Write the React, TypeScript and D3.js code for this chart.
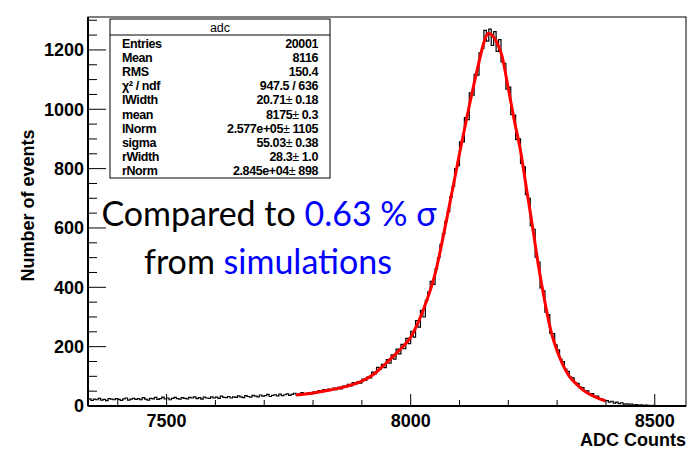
import React, { useEffect, useRef } from "react";
import * as d3 from "d3";

// histogram: 5-count bins starting at 7340
const binStart = 7340;
const binWidth = 5;
const counts = [
  24, 19, 23, 21, 26, 20, 22, 18, 25, 23,
  21, 25, 22, 19, 24, 27, 20, 23, 26, 22,
  25, 21, 28, 23, 20, 26, 24, 29, 22, 25,
  30, 24, 27, 21, 26, 29, 25, 23, 28, 26,
  24, 29, 27, 31, 25, 28, 23, 30, 27, 26,
  31, 27, 30, 26, 33, 29, 28, 32, 27, 31,
  29, 34, 31, 28, 35, 32, 30, 36, 33, 31,
  37, 33, 35, 39, 32, 36, 38, 34, 40, 35,
  38, 41, 36, 39, 43, 37, 41, 45, 40, 43,
  45, 41, 48, 44, 52, 47, 55, 50, 57, 53,
  60, 55, 63, 58, 67, 64, 73, 68, 79, 74,
  82, 77, 91, 86, 97, 95, 114, 108, 130, 124,
  140, 129, 156, 144, 172, 158, 192, 176, 208, 193,
  228, 210, 252, 232, 288, 266, 322, 300, 356, 385,
  420, 410, 462, 500, 545, 580, 622, 655, 705, 740,
  800, 810, 890, 890, 972, 965, 1055, 1048, 1118, 1115,
  1190, 1205, 1266, 1230, 1270, 1215, 1262, 1195, 1235, 1160,
  1155, 1068, 1075, 982, 980, 898, 900, 818, 806, 712,
  700, 608, 595, 502, 485, 398, 388, 316, 308, 245,
  244, 206, 189, 158, 150, 124, 117, 97, 95, 79,
  76, 64, 62, 50, 51, 39, 42, 30, 33, 24,
  23, 18, 18, 13, 16, 10, 13, 8, 11, 6,
  7, 6, 6, 3, 5, 3, 4, 2, 3, 2,
  1, 2, 1, 1, 0, 1, 0, 0, 1, 0, 0, 0, 0, 0,
];

// fitted curve
const fitX = [7765, 7800, 7835, 7870, 7900, 7925, 7950, 7975, 8000, 8025, 8050, 8075, 8100, 8125, 8140, 8150, 8158, 8165, 8175, 8187, 8200, 8212, 8225, 8237, 8250, 8262, 8275, 8287, 8300, 8312, 8325, 8337, 8350, 8362, 8375, 8387, 8400];
const fitY = [37, 44, 54, 67, 84, 108, 145, 185, 232, 320, 445, 640, 850, 1050, 1160, 1225, 1255, 1252, 1230, 1180, 1070, 965, 860, 735, 600, 470, 350, 255, 185, 138, 100, 78, 58, 44, 33, 24, 17];

const xMajor = [7500, 8000, 8500];
const yMajor = [0, 200, 400, 600, 800, 1000, 1200];

const statNames = ["Entries", "Mean", "RMS", "χ² / ndf", "lWidth", "mean", "lNorm", "sigma", "rWidth", "rNorm"];
const statValues = ["20001", "8116", "150.4", "947.5 / 636", "20.71", "8175", "2.577e+05", "55.03", "28.3", "2.845e+04"];
const statErrors = ["", "", "", "", "0.18", "0.3", "1105", "0.38", "1.0", "898"];

const W = 690;
const H = 449;
const rootFont = "'Liberation Sans', Arial, sans-serif";

const App = () => {
  const ref = useRef<SVGSVGElement>(null);

  useEffect(() => {
    document.body.style.margin = "0";
    const svg = d3.select(ref.current);
    svg.selectAll("*").remove();

    const left = 88, right = 686, top = 17, bottom = 406;
    const x = d3.scaleLinear().domain([7339, 8564]).range([left, right]);
    const y = d3.scaleLinear().domain([0, 1311]).range([bottom, top]);

    svg.append("rect").attr("width", W).attr("height", H).attr("fill", "#fff");

    // histogram
    const pts: [number, number][] = counts.map((c, i) => [binStart + i * binWidth, c]);
    pts.push([binStart + counts.length * binWidth, counts[counts.length - 1]]);
    const step = d3.line<[number, number]>()
      .x(d => x(d[0]))
      .y(d => y(d[1]))
      .curve(d3.curveStepAfter);
    svg.append("path")
      .attr("d", step(pts))
      .attr("fill", "none")
      .attr("stroke", "#000")
      .attr("stroke-width", 1.2);

    // fit
    const fitLine = d3.line<number>()
      .x((d, i) => x(fitX[i]))
      .y(d => y(d))
      .curve(d3.curveMonotoneX);
    svg.append("path")
      .attr("d", fitLine(fitY))
      .attr("fill", "none")
      .attr("stroke", "#ff0000")
      .attr("stroke-width", 3);

    // frame
    svg.append("rect")
      .attr("x", left).attr("y", top)
      .attr("width", right - left).attr("height", bottom - top)
      .attr("fill", "none").attr("stroke", "#000").attr("stroke-width", 1);

    // x ticks
    const xMinor = d3.range(7400, 8564, 100);
    svg.append("g").selectAll("line").data(xMinor).enter().append("line")
      .attr("x1", d => x(d)).attr("x2", d => x(d))
      .attr("y1", bottom).attr("y2", d => bottom - (xMajor.includes(d) ? 12 : 6))
      .attr("stroke", "#000");
    svg.append("g").selectAll("text").data(xMajor).enter().append("text")
      .attr("x", d => x(d)).attr("y", 427)
      .attr("text-anchor", "middle")
      .attr("font-family", rootFont).attr("font-weight", "bold").attr("font-size", 18)
      .text(d => d);

    // y ticks
    const yMinor = d3.range(0, 1311, 50);
    svg.append("g").selectAll("line").data(yMinor).enter().append("line")
      .attr("x1", left).attr("x2", d => left + (d % 200 === 0 ? 18 : 9))
      .attr("y1", d => y(d)).attr("y2", d => y(d))
      .attr("stroke", "#000");
    svg.append("g").selectAll("text").data(yMajor).enter().append("text")
      .attr("x", 84).attr("y", d => y(d))
      .attr("dy", "0.36em")
      .attr("text-anchor", "end")
      .attr("font-family", rootFont).attr("font-weight", "bold").attr("font-size", 18)
      .text(d => d);

    // axes
    svg.append("line").attr("x1", left).attr("x2", right).attr("y1", bottom).attr("y2", bottom)
      .attr("stroke", "#000").attr("stroke-width", 2);
    svg.append("line").attr("x1", left).attr("x2", left).attr("y1", top).attr("y2", bottom)
      .attr("stroke", "#000").attr("stroke-width", 2);

    // axis titles
    svg.append("text")
      .attr("x", right).attr("y", 446)
      .attr("text-anchor", "end")
      .attr("font-family", rootFont).attr("font-weight", "bold").attr("font-size", 18)
      .text("ADC Counts");
    svg.append("text")
      .attr("transform", `translate(34,${(top + bottom) / 2 - 6}) rotate(-90)`)
      .attr("text-anchor", "middle")
      .attr("font-family", rootFont).attr("font-weight", "bold").attr("font-size", 18)
      .text("Number of events");

    // stats box
    const bx = 110, by = 19, bw = 220, bh = 159;
    const stats = svg.append("g");
    stats.append("rect")
      .attr("x", bx).attr("y", by).attr("width", bw).attr("height", bh)
      .attr("fill", "#fff").attr("stroke", "#000");
    stats.append("line")
      .attr("x1", bx).attr("x2", bx + bw).attr("y1", 35).attr("y2", 35)
      .attr("stroke", "#000");
    stats.append("text")
      .attr("x", bx + bw / 2).attr("y", 32)
      .attr("text-anchor", "middle")
      .attr("font-family", rootFont).attr("font-size", 12.5)
      .text("adc");
    statNames.forEach((name, i) => {
      const ty = 47.5 + i * 14.2;
      stats.append("text")
        .attr("x", 122).attr("y", ty)
        .attr("font-family", rootFont).attr("font-weight", "bold").attr("font-size", 12.5)
        .attr("letter-spacing", -0.4)
        .text(name);
      const t = stats.append("text")
        .attr("x", 318).attr("y", ty)
        .attr("text-anchor", "end")
        .attr("font-family", rootFont).attr("font-weight", "bold").attr("font-size", 12.5)
        .attr("letter-spacing", -0.4);
      t.append("tspan").text(statValues[i]);
      if (statErrors[i]) {
        t.append("tspan").attr("font-weight", "normal").text("±");
        t.append("tspan").text(" " + statErrors[i]);
      }
    });

    // annotation
    const note = svg.append("g")
      .attr("font-family", "Lato, 'Open Sans', sans-serif")
      .attr("font-size", 34)
      .attr("text-anchor", "middle");
    const l1 = note.append("text").attr("x", 269).attr("y", 226);
    l1.append("tspan").attr("fill", "#000").text("Compared to ");
    l1.append("tspan").attr("fill", "#0000ff").text("0.63 % σ");
    const l2 = note.append("text").attr("x", 268).attr("y", 274);
    l2.append("tspan").attr("fill", "#000").text("from ");
    l2.append("tspan").attr("fill", "#0000ff").text("simulations");
  }, []);

  return <svg ref={ref} width={W} height={H} style={{ display: "block" }} />;
};

export default App;
